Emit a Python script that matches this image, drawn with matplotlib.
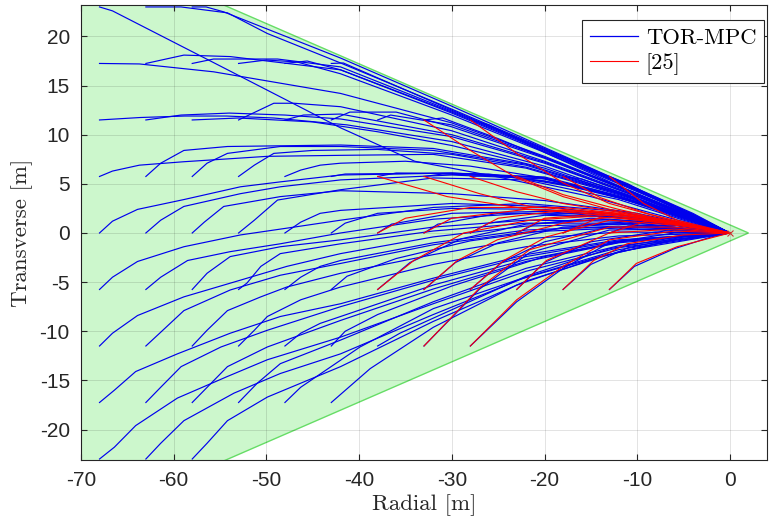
import matplotlib
matplotlib.use('Agg')
import matplotlib.pyplot as plt
from matplotlib.lines import Line2D

# safe cone (green area)
cone_x = [2.0, -80.0, -80.0]
cone_y = [0.0, 33.6, -33.6]

# TOR-MPC trajectories, grouped by starting row (waypoints)
blue_row_p23 = [
    [(-68, 23.0), (-66.6, 22.6), (-55, 17.0), (-42, 10.7), (-34, 7.3), (-25, 5.7), (-15, 3.7), (-6, 1.4), (0, 0)],
    [(-63, 23.0), (-59.2, 23.0), (-54.2, 22.4), (-49.9, 20.3), (-42, 17.3), (-30, 12.6), (-20, 8.6), (-10, 4.5), (-4, 1.9), (0, 0)],
    [(-58, 23.0), (-56.5, 23.0), (-54.6, 22.5), (-42, 17.8), (-30, 12.9), (-20, 8.7), (-10, 4.5), (-4, 2.0), (0, 0)],
]
blue_row_p17 = [
    [(-68, 17.25), (-63.7, 17.2), (-55.7, 16.4), (-42, 14.2), (-30, 11.2), (-20, 7.8), (-10, 4.0), (-4, 1.7), (0, 0)],
    [(-63, 17.25), (-58.9, 18.1), (-53.9, 17.95), (-42, 16.6), (-30, 12.3), (-20, 8.4), (-10, 4.3), (-4, 1.8), (0, 0)],
    [(-58, 17.25), (-55.7, 17.7), (-48.8, 17.7), (-42, 16.9), (-30, 12.4), (-20, 8.5), (-10, 4.4), (-4, 1.9), (0, 0)],
    [(-53, 17.25), (-50, 17.6), (-46.7, 17.4), (-42, 16.2), (-30, 12.0), (-20, 8.2), (-10, 4.2), (-4, 1.8), (0, 0)],
    [(-48, 17.25), (-45.6, 17.5), (-42, 16.6), (-30, 12.2), (-20, 8.3), (-10, 4.3), (0, 0)],
    [(-43, 17.25), (-41.7, 17.3), (-30, 12.5), (-20, 8.5), (-10, 4.4), (0, 0)],
]
blue_row_p11 = [
    [(-68, 11.5), (-63.6, 11.75), (-58.8, 11.9), (-54.3, 11.9), (-49.2, 11.7), (-41.3, 11.0), (-30, 9.3), (-20, 6.8), (-10, 3.5), (-4, 1.4), (0, 0)],
    [(-63, 11.5), (-59.2, 12.0), (-54, 12.2), (-48, 12.0), (-42, 11.6), (-30, 9.8), (-20, 7.1), (-10, 3.7), (-4, 1.5), (0, 0)],
    [(-58, 11.5), (-53, 11.7), (-45, 11.3), (-38, 10.3), (-30, 8.9), (-20, 6.6), (-10, 3.4), (0, 0)],
    [(-53, 11.5), (-49.2, 13.2), (-47, 13.2), (-42, 12.85), (-30, 10.4), (-20, 7.3), (-10, 3.8), (-4, 1.5), (0, 0)],
    [(-48, 11.5), (-46, 12.0), (-42, 12.1), (-30, 10.0), (-20, 7.2), (-10, 3.7), (0, 0)],
    [(-43, 11.5), (-41, 12.3), (-36, 12.3), (-30, 10.8), (-20, 7.6), (-10, 3.9), (0, 0)],
    [(-38, 11.5), (-36.6, 12.0), (-30, 11.0), (-20, 7.7), (-10, 4.0), (0, 0)],
    [(-33, 11.5), (-31, 11.7), (-25, 9.6), (-18, 6.9), (-10, 3.9), (-4, 1.6), (0, 0)],
    [(-28, 11.5), (-26, 11.0), (-20, 8.2), (-12, 4.8), (-5, 1.9), (0, 0)],
]
blue_row_p5 = [
    [(-68, 5.75), (-66.6, 6.3), (-63.7, 6.9), (-58.9, 7.25), (-49.9, 7.8), (-42, 7.9), (-32, 8.0), (-22, 6.6), (-12, 3.9), (-4, 1.4), (0, 0)],
    [(-63, 5.75), (-61.4, 7.1), (-58.9, 8.4), (-54.2, 8.8), (-42, 8.95), (-32, 8.6), (-22, 7.0), (-12, 4.1), (-4, 1.5), (0, 0)],
    [(-58, 5.75), (-56.4, 7.1), (-54.2, 8.1), (-48.5, 8.8), (-42, 8.8), (-32, 8.4), (-22, 6.9), (-12, 4.0), (-4, 1.5), (0, 0)],
    [(-53, 5.75), (-51.3, 6.9), (-49.2, 8.1), (-45, 8.4), (-38, 8.5), (-30, 8.0), (-22, 6.7), (-12, 4.0), (0, 0)],
    [(-48, 5.75), (-46.3, 6.4), (-44.2, 6.9), (-42, 7.1), (-35, 7.3), (-28, 6.8), (-20, 5.6), (-12, 3.6), (-4, 1.3), (0, 0)],
    [(-43, 5.75), (-41.5, 6.0), (-30, 6.1), (-20, 5.7), (-12, 3.8), (-5, 1.6), (0, 0)],
    [(-38, 5.75), (-36, 6.1), (-26, 6.0), (-18, 5.0), (-11, 3.4), (-5, 1.5), (0, 0)],
    [(-33, 5.75), (-31, 6.0), (-24, 5.8), (-17, 4.7), (-10, 3.1), (-4, 1.3), (0, 0)],
    [(-28, 5.75), (-26, 5.9), (-20, 5.3), (-14, 4.1), (-8, 2.5), (-3, 1.0), (0, 0)],
    [(-23, 5.75), (-21, 5.7), (-15, 4.5), (-9, 2.9), (-4, 1.3), (0, 0)],
    [(-18, 5.75), (-16, 5.5), (-11, 3.9), (-6, 2.1), (0, 0)],
    [(-13, 5.75), (-11, 5.0), (-7, 3.0), (-3, 1.2), (0, 0)],
]
blue_row_0 = [
    [(-68, 0), (-66.6, 1.2), (-63.9, 2.4), (-58.9, 3.4), (-52.8, 4.7), (-48.5, 5.2), (-42, 5.9), (-30, 6.1), (-20, 5.6), (-12, 3.7), (-5, 1.5), (0, 0)],
    [(-63, 0), (-61.4, 1.3), (-58.9, 2.7), (-52.8, 4.0), (-48.5, 4.7), (-42, 5.4), (-30, 5.9), (-20, 5.5), (-12, 3.6), (-5, 1.4), (0, 0)],
    [(-58, 0), (-56.7, 1.1), (-54.6, 2.7), (-48.5, 3.7), (-42, 4.3), (-30, 4.0), (-20, 3.3), (-10, 2.0), (-4, 0.8), (0, 0)],
    [(-53, 0), (-51.3, 1.3), (-48.8, 3.35), (-42, 4.4), (-32, 5.6), (-22, 5.4), (-12, 3.4), (-5, 1.3), (0, 0)],
    [(-48, 0), (-46.3, 1.1), (-44.2, 2.0), (-42, 2.3), (-30, 3.0), (-20, 2.7), (-10, 1.6), (-4, 0.6), (0, 0)],
    [(-43, 0), (-41.5, 1.0), (-38, 2.0), (-30, 2.5), (-20, 2.4), (-10, 1.5), (0, 0)],
    [(-38, 0), (-36.5, 0.9), (-30, 2.0), (-20, 2.2), (-10, 1.4), (0, 0)],
    [(-33, 0), (-31.5, 0.9), (-25, 2.0), (-15, 2.0), (-7, 1.0), (0, 0)],
    [(-28, 0), (-26, 1.0), (-20, 1.8), (-12, 1.6), (-5, 0.8), (0, 0)],
    [(-23, 0), (-21, 0.9), (-15, 1.5), (-8, 1.1), (0, 0)],
    [(-18, 0), (-16, 0.8), (-10, 1.2), (-4, 0.6), (0, 0)],
    [(-13, 0), (-11, 0.7), (-6, 0.8), (0, 0)],
    [(-8, 0), (-6, 0.5), (-3, 0.3), (0, 0)],
]
blue_row_m5 = [
    [(-68, -5.75), (-66.6, -4.5), (-63.9, -2.9), (-58.9, -1.4), (-52.8, -0.2), (-47, 0.6), (-42, 1.3), (-32, 2.6), (-22, 3.0), (-12, 2.2), (-5, 0.9), (0, 0)],
    [(-63, -5.75), (-61.4, -4.5), (-58.5, -2.8), (-53.9, -1.9), (-48.5, -1.1), (-42, 0), (-32, 1.4), (-22, 2.0), (-12, 1.6), (-5, 0.7), (0, 0)],
    [(-58, -5.75), (-56.4, -4.1), (-53.9, -2.4), (-48.5, -1.4), (-42, -0.7), (-32, 0.6), (-22, 1.3), (-12, 1.2), (-5, 0.5), (0, 0)],
    [(-53, -5.75), (-52.1, -5.1), (-50.6, -3.4), (-48.5, -2.1), (-42, -1.1), (-32, 0.2), (-22, 1.0), (-12, 1.0), (0, 0)],
    [(-48, -5.75), (-46.3, -4.5), (-44.2, -3.4), (-42, -2.8), (-32, -1.0), (-22, 0.3), (-12, 0.7), (0, 0)],
    [(-43, -5.75), (-41.3, -4.4), (-36, -2.6), (-28, -0.8), (-18, 0.5), (-9, 0.6), (0, 0)],
    [(-38, -5.75), (-34.5, -3.0), (-29, -0.6), (-22, 0.9), (-13, 1.4), (-6, 0.8), (0, 0)],
    [(-33, -5.75), (-29.6, -3.0), (-25, -1.0), (-18, 0.6), (-10, 1.0), (0, 0)],
    [(-28, -5.75), (-24.6, -3.0), (-20, -0.9), (-13, 0.6), (-6, 0.5), (0, 0)],
    [(-23, -5.75), (-20, -3.0), (-15, -0.9), (-8, 0.1), (0, 0)],
    [(-18, -5.75), (-15, -3.2), (-11, -1.5), (-5, -0.4), (0, 0)],
    [(-13, -5.75), (-10.3, -3.4), (-6, -1.6), (-2, -0.4), (0, 0)],
]
blue_row_m11 = [
    [(-68, -11.5), (-66.6, -10.2), (-63.9, -8.4), (-58.9, -6.5), (-52.8, -4.8), (-47.8, -3.4), (-42, -2.1), (-32, -0.4), (-22, 0.7), (-12, 0.9), (0, 0)],
    [(-63, -11.5), (-61.4, -10.1), (-58.9, -7.9), (-53.9, -5.8), (-48.5, -4.3), (-42, -3.1), (-32, -1.2), (-22, 0.1), (-12, 0.5), (0, 0)],
    [(-58, -11.5), (-56.4, -9.9), (-54.2, -7.9), (-50.6, -6.5), (-47.8, -5.5), (-42, -4.1), (-32, -2.2), (-22, -0.6), (-12, 0.1), (0, 0)],
    [(-53, -11.5), (-51.3, -9.9), (-49.9, -8.5), (-46.3, -6.8), (-42, -5.5), (-32, -3.2), (-22, -1.4), (-12, -0.3), (0, 0)],
    [(-48, -11.5), (-46.3, -10.2), (-44.2, -9.2), (-42, -8.5), (-32, -5.3), (-22, -2.7), (-12, -0.9), (0, 0)],
    [(-43, -11.5), (-41.5, -10.0), (-38, -8.3), (-30, -5.4), (-20, -2.4), (-10, -0.6), (0, 0)],
    [(-38, -11.5), (-35.6, -10.2), (-30.2, -7.9), (-22, -4.4), (-13, -1.6), (-5, -0.3), (0, 0)],
    [(-33, -11.5), (-27, -5.7), (-21.6, -2.0), (-13, 0.3), (-6, 0.4), (0, 0)],
    [(-28, -11.5), (-23, -7.0), (-18, -3.6), (-13, -1.0), (-6, 0), (0, 0)],
]
blue_row_m17 = [
    [(-68, -17.25), (-66.4, -16.0), (-64.1, -14.1), (-59.6, -12.3), (-53.9, -10.2), (-48.5, -8.5), (-42, -7.2), (-32, -4.6), (-22, -2.2), (-12, -0.7), (0, 0)],
    [(-63, -17.25), (-61.4, -15.7), (-59.2, -13.6), (-54.9, -11.6), (-49.9, -9.9), (-42, -7.5), (-32, -4.8), (-22, -2.4), (-12, -0.8), (0, 0)],
    [(-58, -17.25), (-56.7, -16.0), (-54.2, -13.6), (-49.9, -11.6), (-42, -8.9), (-32, -5.7), (-22, -2.9), (-12, -1.0), (0, 0)],
    [(-53, -17.25), (-51, -15.3), (-48.5, -13.3), (-42, -10.9), (-32, -7.0), (-22, -3.6), (-12, -1.3), (0, 0)],
    [(-48, -17.25), (-46.3, -15.7), (-39.9, -11.6), (-32, -7.7), (-23, -4.8), (-14, -2.4), (-6, -0.7), (0, 0)],
    [(-43, -17.25), (-38.8, -13.8), (-32, -9.6), (-23, -5.3), (-14, -2.4), (-6, -0.7), (0, 0)],
]
blue_row_m23 = [
    [(-68, -23), (-66.4, -21.8), (-64.1, -19.6), (-59.6, -16.8), (-54.2, -14.6), (-49.9, -12.9), (-42, -10.6), (-32, -7.2), (-22, -3.9), (-12, -1.5), (0, 0)],
    [(-63, -23), (-61.4, -21.4), (-58.9, -19.1), (-53.5, -16.3), (-48.5, -14.3), (-42, -12.3), (-32, -8.3), (-22, -4.5), (-12, -1.7), (0, 0)],
    [(-58, -23), (-56.4, -21.4), (-54.2, -19.1), (-49.9, -16.7), (-42, -13.6), (-32, -9.0), (-22, -4.9), (-12, -1.9), (0, 0)],
]

# reference method [25]
red_paths = [
    [(-33, 11.5), (-28, 8.4), (-23, 5.6), (-18, 3.7), (-13, 2.4), (-6, 1.1), (0, 0)],
    [(-28, 11.5), (-23, 8.1), (-18, 5.1), (-13, 3.0), (-6, 1.2), (0, 0)],
    [(-38, 5.75), (-30.5, 3.7), (-21.6, 2.4), (-13, 1.8), (-6, 0.9), (0, 0)],
    [(-33, 5.75), (-27, 4.0), (-21.6, 2.7), (-13, 2.0), (-6, 1.0), (0, 0)],
    [(-28, 5.75), (-23, 4.2), (-18, 3.0), (-12, 2.1), (-6, 1.0), (0, 0)],
    [(-23, 5.75), (-18, 3.9), (-12, 2.4), (-6, 1.1), (0, 0)],
    [(-18, 5.75), (-14, 3.6), (-9, 2.0), (-4, 0.8), (0, 0)],
    [(-13, 5.75), (-9.3, 3.0), (-5.7, 1.3), (-0.4, 0.1), (0, 0)],
    [(-38, 0), (-35, 1.5), (-28, 2.6), (-18, 2.6), (-10, 1.8), (0, 0)],
    [(-33, 0), (-30, 1.5), (-22, 2.4), (-13, 2.1), (-6, 1.0), (0, 0)],
    [(-28, 0), (-25, 1.5), (-18, 2.3), (-10, 1.7), (0, 0)],
    [(-23, 0), (-20, 1.5), (-13, 2.0), (-6, 1.1), (0, 0)],
    [(-18, 0), (-14, 1.6), (-8, 1.3), (0, 0)],
    [(-13, 0), (-9, 1.2), (-4, 0.7), (0, 0)],
    [(-38, -5.75), (-34.1, -2.8), (-28.7, 0), (-21.6, 1.3), (-13, 1.8), (-6, 1.0), (0, 0)],
    [(-33, -5.75), (-29.4, -2.8), (-25.1, -0.7), (-18, 1.0), (-13, 1.6), (-6, 0.9), (0, 0)],
    [(-28, -5.75), (-24.4, -2.8), (-19.8, -0.4), (-13, 1.3), (-6, 0.8), (0, 0)],
    [(-23, -5.75), (-19.8, -2.8), (-13, 0), (-6, 0.4), (0, 0)],
    [(-18, -5.75), (-14.7, -2.8), (-11.1, -1.1), (-5, -0.2), (0, 0)],
    [(-13, -5.75), (-10.1, -3.1), (-5.7, -1.4), (0, 0)],
    [(-33, -11.5), (-26.9, -5.5), (-21.6, -1.7), (-13, 0.6), (-6, 0.6), (0, 0)],
    [(-28, -11.5), (-23, -6.8), (-18, -3.4), (-13, -0.7), (-6, 0.2), (0, 0)],
]

target_x = [0]
target_y = [0]

x_ticks = [-70, -60, -50, -40, -30, -20, -10, 0]
y_ticks = [-20, -15, -10, -5, 0, 5, 10, 15, 20]

plt.rcParams['font.family'] = ['Liberation Sans', 'DejaVu Sans']
plt.rcParams['axes.unicode_minus'] = False

fig = plt.figure(figsize=(7.69, 5.19), dpi=100)
ax = fig.add_axes([0.1053, 0.1137, 0.8921, 0.8767])

ax.fill(cone_x, cone_y, facecolor='#ccf7cc', edgecolor='#66dd66', linewidth=1.0, zorder=1)

blue_rows = [blue_row_p23, blue_row_p17, blue_row_p11, blue_row_p5, blue_row_0,
             blue_row_m5, blue_row_m11, blue_row_m17, blue_row_m23]
for row in blue_rows:
    for path in row:
        xs = [p[0] for p in path]
        ys = [p[1] for p in path]
        ax.plot(xs, ys, color='#0000ee', lw=0.85, zorder=2)

for path in red_paths:
    xs = [p[0] for p in path]
    ys = [p[1] for p in path]
    ax.plot(xs, ys, color='#ff0000', lw=0.8, zorder=3)

ax.plot(target_x, target_y, 'x', color='#cc3333', ms=4, mew=0.8, zorder=4)

ax.set_xlim(-70, 4)
ax.set_ylim(-23.1, 23.2)
ax.set_xticks(x_ticks)
ax.set_yticks(y_ticks)
ax.tick_params(direction='in', length=4, width=0.8, colors='#262626', labelsize=15,
               top=True, right=True, pad=8)
ax.set_axisbelow(False)
ax.grid(True, color='#000000', alpha=0.13, lw=0.6)
for s in ax.spines.values():
    s.set_color('#262626')
    s.set_linewidth(0.8)

ax.set_xlabel('Radial [m]', family='cmr10', fontsize=16.5, color='#262626', labelpad=3)
ax.set_ylabel('Transverse [m]', family='cmr10', fontsize=16.5, color='#262626', labelpad=5)

handles = [Line2D([], [], color='#0000ee', lw=0.9), Line2D([], [], color='#ff0000', lw=0.8)]
leg = ax.legend(handles, ['TOR-MPC', '[25]'], loc='upper right', bbox_to_anchor=(0.996, 0.967),
                prop={'family': 'cmr10', 'size': 16.3},
                fancybox=False, framealpha=1, edgecolor='#262626', handlelength=2.1,
                borderaxespad=0.0, handletextpad=0.35, labelspacing=0.25, borderpad=0.35)
leg.get_frame().set_linewidth(0.8)

fig.savefig('out.png', dpi=100)
